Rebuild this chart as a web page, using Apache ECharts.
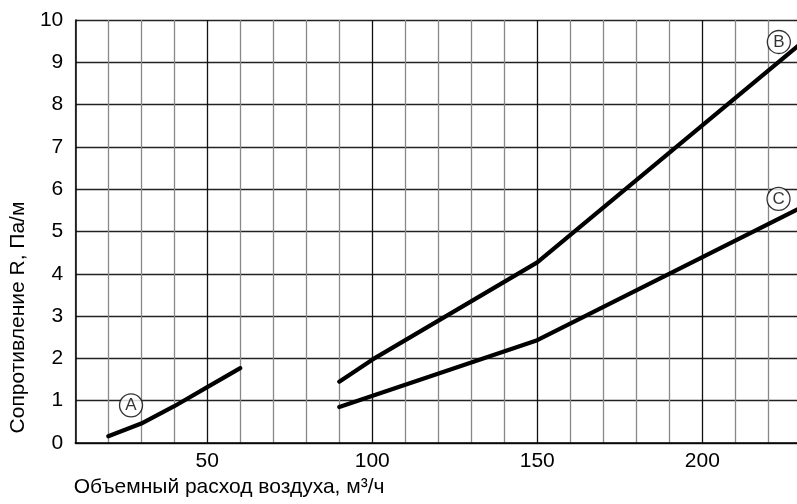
<!DOCTYPE html>
<html>
<head>
<meta charset="utf-8">
<script src="https://cdn.jsdelivr.net/npm/echarts@6/dist/echarts.min.js"></script>
<style>html,body{margin:0;padding:0;background:#fff}#c{width:797px;height:504px}</style>
</head>
<body>
<div id="c"></div>
<script>
var xTitle = 'Объемный расход воздуха, м³/ч';
var yTitle = 'Сопротивление R, Па/м';
var xTickLabels = [50, 100, 150, 200];
var curveA = [[20, 0.16], [30, 0.46], [40, 0.87], [50, 1.32], [60, 1.77]];
var curveB = [[90, 1.45], [100, 1.97], [150, 4.27], [230, 9.45]];
var curveC = [[90, 0.85], [150, 2.43], [230, 5.57]];
var markerNames = ['A', 'B', 'C'];
var markerPos = [[26.9, 0.89], [223.2, 9.48], [223.1, 5.77]];

var chart = echarts.init(document.getElementById('c'), null, {renderer: 'canvas'});
var font = 'Liberation Sans, Arial, sans-serif';
function lineSeries(d) {
  return {type: 'line', data: d, showSymbol: false, symbol: 'none', smooth: false,
    lineStyle: {color: '#000', width: 4.2, cap: 'round'}, z: 3, silent: true};
}
chart.setOption({
  animation: false,
  grid: {left: 67, top: 20, bottom: 61, right: 0, containLabel: false},
  xAxis: {
    type: 'value', min: 10, max: 228.7, interval: 10,
    name: xTitle, nameLocation: 'middle', nameGap: 34,
    nameTextStyle: {fontFamily: font, fontSize: 21, color: '#000', padding: [0, 414, 0, 0]},
    axisLine: {show: true, lineStyle: {color: '#000', width: 1.5}},
    axisTick: {show: false},
    axisLabel: {fontFamily: font, fontSize: 21, color: '#000', margin: 8, showMaxLabel: false,
      formatter: function (v) { return xTickLabels.indexOf(v) >= 0 ? String(v) : ''; }},
    splitLine: {show: true, showMaxLine: false, lineStyle: {color: ['#888', '#888', '#888', '#888', '#111'], width: 1.3}}
  },
  yAxis: {
    type: 'value', min: 0, max: 10, interval: 1,
    name: yTitle, nameLocation: 'middle', nameGap: 38, nameRotate: 90,
    nameTextStyle: {fontFamily: font, fontSize: 21, color: '#000', padding: [0, 172, 0, 0]},
    axisLine: {show: true, lineStyle: {color: '#000', width: 1.5}},
    axisTick: {show: false},
    axisLabel: {fontFamily: font, fontSize: 21, color: '#000', margin: 12},
    splitLine: {show: true, lineStyle: {color: '#222', width: 1.3}}
  },
  series: [
    lineSeries(curveA), lineSeries(curveB), lineSeries(curveC),
    {type: 'scatter', z: 5, silent: true, symbol: 'circle', symbolSize: 23,
      data: markerPos.map(function (p, i) { return {value: p, name: markerNames[i]}; }),
      itemStyle: {color: '#fff', borderColor: '#000', borderWidth: 1.3},
      label: {show: true, position: 'inside', formatter: '{b}', fontFamily: font, fontSize: 17, color: '#000'}}
  ]
});
</script>
</body>
</html>
